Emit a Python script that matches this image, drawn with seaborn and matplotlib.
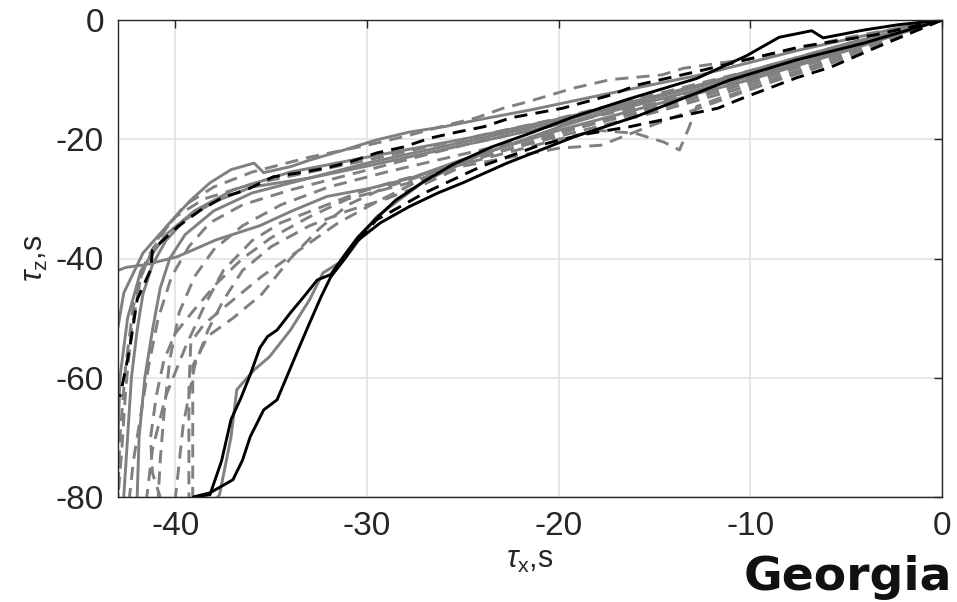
import matplotlib
matplotlib.use("Agg")
import matplotlib.pyplot as plt
import seaborn as sns
import pandas as pd

# ---------------- data ----------------
x_ticks = [-40, -30, -20, -10, 0]
y_ticks = [-80, -60, -40, -20, 0]

# black solid curves
black_a_x = [0, -2.3, -4.1, -6.2, -6.8, -8.5, -10.2, -12.8, -16.3, -19.2, -21.5, -23.5, -25.5, -27.0, -28.5,
             -29.6, -30.5, -31.2, -31.9, -32.6, -33.3, -34.0, -34.7, -35.2, -35.6, -36.1, -36.6, -37.1, -37.6,
             -38.2, -39.0]
black_a_y = [0, -0.8, -1.7, -3.0, -1.8, -2.9, -6.0, -9.8, -13.2, -16.2, -19.0, -21.3, -24.2, -27.0, -30.2,
             -33.5, -36.5, -39.5, -42.7, -43.6, -46.4, -49.1, -52.0, -53.1, -55.0, -59.5, -63.5, -67.0, -74.0,
             -79.6, -80.0]
black_b_x = [0, -4.1, -7.6, -11.1, -13.0, -15.8, -19.2, -22.7, -25.0, -26.3, -27.8, -29.3, -30.5, -31.2, -31.9,
             -32.4, -33.0, -33.6, -34.2, -34.7, -35.4, -36.1, -36.5, -37.0, -38.2, -39.07]
black_b_y = [0, -3.9, -6.7, -10.1, -12.5, -16.0, -19.6, -24.0, -27.3, -29.0, -31.3, -34.0, -37.0, -40.2, -43.1,
             -46.4, -50.8, -55.3, -59.9, -63.7, -65.4, -69.9, -73.8, -77.1, -79.3, -80.0]
# black dashed curves
black_c_x = [0, -3.5, -7.4, -10.0, -12.6, -15.9, -17.3, -19.8, -22.5, -23.9, -25.3, -26.7, -28.1, -29.5, -30.9,
             -32.1, -33.5, -34.9, -36.3, -37.5, -38.7, -39.9, -41.2, -41.3, -42.0, -42.4, -42.9]
black_c_y = [0, -2.5, -4.5, -6.5, -8.5, -10.9, -12.6, -14.8, -16.4, -17.9, -18.8, -19.8, -21.3, -22.3, -23.8,
             -24.8, -25.6, -26.3, -28.5, -29.7, -31.9, -34.7, -38.6, -41.9, -46.9, -55.3, -63.2]
black_d_x = [0, -3.0, -5.8, -7.6, -9.0, -10.4, -11.7, -16.3, -18.9, -21.0, -24.0, -27.0, -29.5, -30.5]
black_d_y = [0, -4.0, -7.9, -9.7, -11.4, -13.1, -14.8, -17.9, -19.3, -21.0, -24.5, -29.0, -33.5, -37.0]

# gray solid curves
gray_s1_x = [0, -2.2, -7.4, -12.6, -17.8, -21.5, -24.3, -26.0, -27.8, -29.5, -31.2, -33.0, -34.0, -35.4, -35.9,
             -37.1, -38.2, -39.2, -40.3, -41.7, -42.7, -43.0]
gray_s1_y = [0, -1.3, -5.0, -9.2, -12.6, -15.1, -16.8, -17.9, -18.8, -20.1, -21.8, -23.5, -24.6, -25.6, -24.0,
             -25.1, -27.3, -30.2, -34.0, -39.1, -45.8, -51.5]
gray_s2_x = [0, -5, -10, -15, -20, -25.1, -27.7, -29.8, -32.1, -33.9, -35.6, -37.9, -39.9, -41.5, -42.6, -43.0]
gray_s2_y = [0, -5.2, -10, -14.2, -18.5, -23.5, -26.5, -28.2, -29.6, -32.0, -34.5, -36.9, -39.7, -41.0, -41.5, -42.0]
gray_s3_x = [0, -5, -10, -15, -20, -24, -27, -29.5, -31.2, -32.3, -33.0, -34.0, -35.1, -35.9, -36.8, -37.1,
             -37.7, -37.8]
gray_s3_y = [0, -4, -8.5, -13, -18, -22.5, -27, -33, -40.2, -42.4, -46.9, -52.0, -56.5, -58.7, -62.0, -69.9,
             -79.6, -80.0]
gray_s4_x = [0, -5, -10, -15, -20, -25, -30, -33, -36, -38, -39.5, -40.5, -41.2, -41.7, -42.0, -42.3, -42.5, -42.7]
gray_s4_y = [0, -5, -9.5, -13.5, -17.5, -21, -24.5, -26.5, -28, -30.5, -33.5, -37, -41, -46, -52, -60, -70, -80]
gray_s5_x = [0, -5, -10, -15, -20, -25, -30, -33, -36, -38, -39.5, -40.3, -40.8, -41.2, -41.6, -41.9, -42.0]
gray_s5_y = [0, -4.5, -9, -13, -17, -20.5, -24, -26.5, -29, -32, -36, -40, -45, -52, -60, -70, -80]
gray_s6_x = [0, -5, -10, -15, -20, -25, -30, -34, -37, -39, -40.5, -41.8, -42.5, -42.9, -43.0]
gray_s6_y = [0, -4.2, -8.8, -12.8, -16.6, -20.0, -23.0, -25.5, -28.5, -32.0, -36.0, -42.0, -50.0, -60.0, -70.0]

# gray dashed curves
gray_d1_x = [0, -5, -10, -13.5, -14.6, -17.3, -19.2, -21.6, -22.9, -24.3, -25.8, -28, -30, -33, -36, -38, -39.5,
             -40.5, -41.5, -42.2, -42.6, -42.9, -43.0]
gray_d1_y = [0, -3, -6.5, -8.1, -9.2, -10.0, -11.4, -13.7, -14.8, -16.4, -17.6, -19.5, -21, -23, -25.5, -28, -31,
             -35, -40, -48, -58, -70, -80]
gray_d2_x = [0, -3, -6, -9, -11.5, -12.8, -13.2, -13.7, -14.5, -16, -18, -20, -23, -26, -29, -31, -32.5, -34,
             -35.5, -37, -38.3, -39.1, -39.1, -39.1]
gray_d2_y = [0, -4, -7.5, -10.5, -13, -14.5, -18, -21.8, -20.5, -19, -18.5, -20, -22.5, -25, -28, -31, -35, -40,
             -46, -50, -53, -58, -70, -80]
gray_d3_x = [0, -5, -10, -15, -20, -23, -26, -28.5, -30.5, -32.5, -34.5, -36, -37.5, -38.5, -39.5, -40.5, -41.2, -41.5]
gray_d3_y = [0, -6, -11, -15.5, -19.5, -22, -25, -27, -29, -31.5, -34, -37, -42, -48, -55, -63, -72, -80]
gray_d4_x = [0, -5, -10, -15, -20, -25, -28, -31, -34, -36.5, -38.2, -39.3, -40.2, -40.9, -41.4, -41.8, -42.2, -42.4]
gray_d4_y = [0, -4.5, -9.5, -14, -17.5, -21, -23.5, -26, -28.5, -31, -34, -38, -43, -50, -58, -66, -74, -80]
gray_d5_x = [0, -5, -10, -15, -20, -24, -28, -31, -33, -35, -36.5, -37.8, -39, -40, -40.6, -41, -41.3, -41.2, -40.8]
gray_d5_y = [0, -5, -10, -14.5, -19, -23, -27.5, -30, -33, -36.5, -40, -44, -48.5, -52.5, -57, -63, -70, -76, -80]
gray_d6_x = [0, -5, -10, -15, -20, -24, -27, -29.5, -31.5, -33.5, -35.5, -37.2, -38.5, -39.2, -39.3, -39.3, -39.3]
gray_d6_y = [0, -5, -10, -14.5, -19, -23, -26.5, -30.5, -34, -38.5, -43, -47.5, -51, -54, -62, -72, -80]
gray_d7_x = [0, -5, -10, -15, -20, -25, -30, -33, -36, -38.5, -40, -41, -41.8, -42.3, -42.6, -42.8, -43.0]
gray_d7_y = [0, -4, -8.5, -12.5, -16.5, -20, -23.5, -25.5, -27.5, -30, -33, -37, -43, -52, -62, -72, -80]
gray_d8_x = [0, -5, -10, -15, -20, -25, -29, -32, -34.5, -36.5, -38, -39, -39.8, -40.3, -40.6, -40.8, -40.9]
gray_d8_y = [0, -5.5, -10.5, -15, -18.8, -22.5, -25.5, -28, -31, -34.5, -38.5, -43, -49, -57, -66, -74, -80]
gray_d9_x = [0, -3, -6, -9, -12, -15, -17.8, -20, -22.5, -25, -27, -29, -31, -33, -35, -36.5, -37.5, -38.3, -39.0,
             -39.6, -40.0]
gray_d9_y = [0, -3.5, -7, -10.5, -14, -17.5, -21, -21.5, -23, -24.5, -27.5, -30, -32, -34.5, -38, -42, -47, -52, -58,
             -68, -80]

gray_dashed = [(gray_d1_x, gray_d1_y), (gray_d2_x, gray_d2_y), (gray_d3_x, gray_d3_y), (gray_d4_x, gray_d4_y),
               (gray_d5_x, gray_d5_y), (gray_d6_x, gray_d6_y), (gray_d7_x, gray_d7_y), (gray_d8_x, gray_d8_y),
               (gray_d9_x, gray_d9_y)]
gray_solid = [(gray_s1_x, gray_s1_y), (gray_s2_x, gray_s2_y), (gray_s3_x, gray_s3_y), (gray_s4_x, gray_s4_y),
              (gray_s5_x, gray_s5_y), (gray_s6_x, gray_s6_y)]
black_solid = [(black_a_x, black_a_y), (black_b_x, black_b_y)]
black_dashed = [(black_c_x, black_c_y), (black_d_x, black_d_y)]

# ---------------- styling ----------------
sns.set_theme(style="white")
plt.rcParams['font.family'] = ['Liberation Sans', 'DejaVu Sans']
plt.rcParams['axes.unicode_minus'] = False
plt.rcParams['mathtext.fontset'] = 'custom'
plt.rcParams['mathtext.it'] = 'Liberation Sans:italic'
plt.rcParams['mathtext.rm'] = 'Liberation Sans'

fig = plt.figure(figsize=(9.57, 6.02), dpi=100)
ax = fig.add_axes([118 / 957, 1 - 497 / 602, (942 - 118) / 957, (497 - 20) / 602])

GRAY = '#808080'
LW = 2.1
DASH = (0, (4.5, 2.8))


def draw(curves, color, ls):
    for cx, cy in curves:
        df = pd.DataFrame({'x': cx, 'y': cy})
        sns.lineplot(data=df, x='x', y='y', sort=False, estimator=None, color=color,
                     linestyle=ls, linewidth=LW, ax=ax, legend=False)


draw(gray_dashed, GRAY, DASH)
draw(gray_solid, GRAY, '-')
draw(black_solid, 'black', '-')
draw(black_dashed, 'black', DASH)

ax.set_xlim(-43, 0)
ax.set_ylim(-80, 0)
ax.set_xticks(x_ticks)
ax.set_yticks(y_ticks)
ax.grid(True, color='#e3e3e3', linewidth=1.2)
ax.set_axisbelow(True)
for s in ax.spines.values():
    s.set_color('#262626')
    s.set_linewidth(1.0)
ax.tick_params(direction='in', length=6, width=1, colors='#262626', labelsize=24,
               top=True, right=True, labelcolor='#262626')
ax.tick_params(axis='x', pad=10)
ax.tick_params(axis='y', pad=10)

ax.set_xlabel(r'$\tau_{\rm x}$,s', fontsize=22, color='#262626', labelpad=2)
ax.set_ylabel(r'$\tau_{\rm z}$,s', fontsize=22, color='#262626', labelpad=4)

fig.text(0.995, 1 - 590 / 602, 'Georgia', ha='right', va='baseline', fontsize=34,
         fontweight='heavy', family=['DejaVu Sans'], color='#111111')

fig.savefig('out.png', dpi=100)
